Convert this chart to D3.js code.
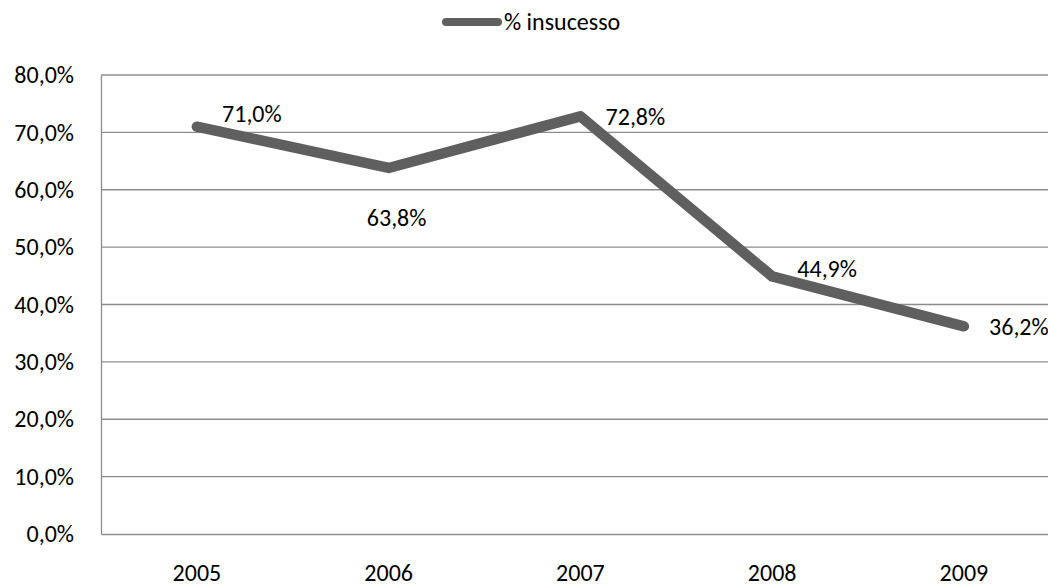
<!DOCTYPE html>
<html><head><meta charset="utf-8">
<script src="https://cdn.jsdelivr.net/npm/d3@7"></script>
<style>body{margin:0;background:#fff}</style>
</head><body>
<svg id="c" width="1048" height="587"></svg>
<script>
const categories = ["2005","2006","2007","2008","2009"];
const values = [71.0, 63.8, 72.8, 44.9, 36.2];
const labels = ["71,0%","63,8%","72,8%","44,9%","36,2%"];
const yTicks = [0,10,20,30,40,50,60,70,80];
const seriesName = "% insucesso";

const svg = d3.select("#c");
const font = "Carlito, Calibri, Lato, sans-serif";
const fs = 24;
const x = d3.scaleBand().domain(categories).range([101, 1059.75]);
const y = d3.scaleLinear().domain([0,80]).range([534,75]);
const fmt = v => v.toFixed(1).replace(".", ",") + "%";

// gridlines
svg.append("g").selectAll("line").data(yTicks.filter(d=>d>0)).join("line")
  .attr("x1",101).attr("x2",1059.75)
  .attr("y1",d=>y(d)).attr("y2",d=>y(d))
  .attr("stroke","#8c8c8c").attr("stroke-width",1.3);

// y axis
const ya = svg.append("g").attr("transform","translate(101,0)")
  .call(d3.axisLeft(y).tickValues(yTicks).tickFormat(fmt).tickSize(0).tickPadding(27));
ya.select(".domain").attr("stroke","#8c8c8c").attr("stroke-width",1.3);
ya.selectAll("text").attr("font-family",font).attr("font-size",fs).attr("fill","#000");

// x axis
const xa = svg.append("g").attr("transform","translate(0,534)")
  .call(d3.axisBottom(x).tickSize(0).tickPadding(30));
xa.select(".domain").attr("stroke","#8c8c8c").attr("stroke-width",1.3);
xa.selectAll("text").attr("font-family",font).attr("font-size",fs).attr("fill","#000");

const cx = d => x(d) + x.bandwidth()/2;
const pts = categories.map((c,i)=>[cx(c), y(values[i])]);

svg.append("path").datum(pts)
  .attr("d", d3.line())
  .attr("fill","none").attr("stroke","#5f5f5f").attr("stroke-width",10.5)
  .attr("stroke-linecap","round").attr("stroke-linejoin","round");

// data labels (offsets relative to point, y = baseline)
const offs = [[55,-4.5],[8,58],[55,9],[55,1],[55,9]];
svg.append("g").selectAll("text").data(labels).join("text")
  .attr("x",(d,i)=>pts[i][0]+offs[i][0])
  .attr("y",(d,i)=>pts[i][1]+offs[i][1])
  .attr("text-anchor","middle")
  .attr("font-family",font).attr("font-size",fs).attr("fill","#000")
  .text(d=>d);

// legend
svg.append("line").attr("x1",446).attr("x2",498).attr("y1",22).attr("y2",22)
  .attr("stroke","#5f5f5f").attr("stroke-width",8).attr("stroke-linecap","round");
svg.append("text").attr("x",504).attr("y",30)
  .attr("font-family",font).attr("font-size",fs).attr("fill","#000").text(seriesName);
</script>
</body></html>
